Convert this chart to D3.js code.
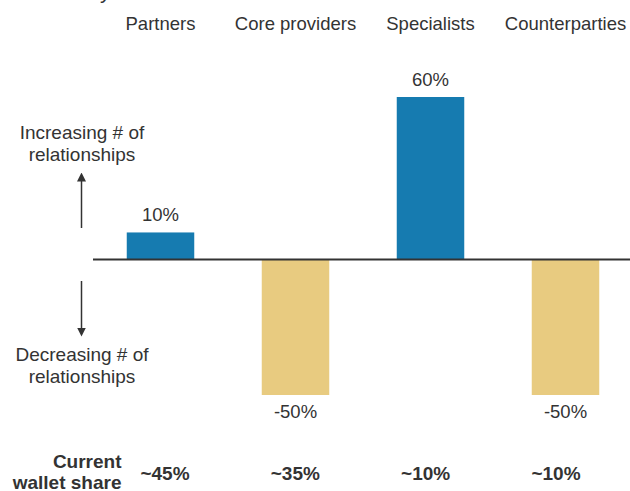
<!DOCTYPE html>
<html>
<head>
<meta charset="utf-8">
<script src="https://cdn.jsdelivr.net/npm/d3@7"></script>
<style>
  body { margin: 0; background: #fff; }
  text { font-family: Arial, "Liberation Sans", sans-serif; fill: #333; }
</style>
</head>
<body>
<div id="chart-area"></div>
<script>
const WIDTH = 630
const HEIGHT = 491

// data
const categories = ["Partners", "Core providers", "Specialists", "Counterparties"]
const changes = [10, -50, 60, -50]
const walletShare = ["~45%", "~35%", "~10%", "~10%"]

const BLUE = "#167bb0"
const GOLD = "#e8cb80"

const svg = d3.select("#chart-area").append("svg")
  .attr("width", WIDTH)
  .attr("height", HEIGHT)

// scales
const x = d3.scaleBand()
  .domain(categories)
  .range([93, 633])
  .paddingInner(0.5)
  .paddingOuter(0.25)
const y = d3.scaleLinear()
  .domain([-50, 60])
  .range([395, 97])
const shareX = d3.scalePoint()
  .domain(categories)
  .range([165, 556])

// clipped title descender at very top
svg.append("text")
  .attr("x", 100)
  .attr("y", -2)
  .attr("font-size", "22px")
  .text("y")

// column headers
svg.selectAll(".header")
  .data(categories)
  .enter().append("text")
  .attr("class", "header")
  .attr("x", d => x(d) + x.bandwidth() / 2)
  .attr("y", 29.5)
  .attr("text-anchor", "middle")
  .attr("font-size", "18.5px")
  .text(d => d)

// bars
const rows = categories.map((c, i) => ({ cat: c, v: changes[i] }))
svg.selectAll(".bar")
  .data(rows)
  .enter().append("rect")
  .attr("class", "bar")
  .attr("x", d => x(d.cat))
  .attr("width", x.bandwidth())
  .attr("y", d => y(Math.max(0, d.v)))
  .attr("height", d => Math.abs(y(d.v) - y(0)))
  .attr("fill", d => d.v >= 0 ? BLUE : GOLD)

// value labels
svg.selectAll(".val")
  .data(rows)
  .enter().append("text")
  .attr("class", "val")
  .attr("x", d => x(d.cat) + x.bandwidth() / 2)
  .attr("y", d => d.v >= 0 ? y(d.v) - 11 : y(d.v) + 23)
  .attr("text-anchor", "middle")
  .attr("font-size", "18.5px")
  .text(d => d.v + "%")

// zero line
svg.append("line")
  .attr("x1", 93)
  .attr("x2", WIDTH)
  .attr("y1", y(0))
  .attr("y2", y(0))
  .attr("stroke", "#333")
  .attr("stroke-width", 2)

// side annotations
const defs = svg.append("defs")
defs.append("marker")
  .attr("id", "arrow")
  .attr("viewBox", "0 0 10 10")
  .attr("refX", 5)
  .attr("refY", 5)
  .attr("markerWidth", 6)
  .attr("markerHeight", 6)
  .attr("orient", "auto-start-reverse")
  .append("path")
  .attr("d", "M0,0 L10,5 L0,10 z")
  .attr("fill", "#333")

svg.append("line")
  .attr("x1", 81.5).attr("x2", 81.5)
  .attr("y1", 228).attr("y2", 177)
  .attr("stroke", "#333").attr("stroke-width", 1.5)
  .attr("marker-end", "url(#arrow)")
svg.append("line")
  .attr("x1", 81.5).attr("x2", 81.5)
  .attr("y1", 281).attr("y2", 332)
  .attr("stroke", "#333").attr("stroke-width", 1.5)
  .attr("marker-end", "url(#arrow)")

const sideLabels = [
  { lines: ["Increasing # of", "relationships"], y: 139 },
  { lines: ["Decreasing # of", "relationships"], y: 361 }
]
sideLabels.forEach(s => {
  const t = svg.append("text")
    .attr("x", 82)
    .attr("y", s.y)
    .attr("text-anchor", "middle")
    .attr("font-size", "19px")
  s.lines.forEach((l, i) => {
    t.append("tspan")
      .attr("x", 82)
      .attr("dy", i === 0 ? 0 : 22)
      .text(l)
  })
})

// wallet share row
const ws = svg.append("text")
  .attr("x", 121.5)
  .attr("y", 468)
  .attr("text-anchor", "end")
  .attr("font-size", "19px")
  .attr("font-weight", "bold")
ws.append("tspan").attr("x", 121.5).text("Current")
ws.append("tspan").attr("x", 121.5).attr("dy", 21).text("wallet share")

svg.selectAll(".share")
  .data(categories)
  .enter().append("text")
  .attr("class", "share")
  .attr("x", d => shareX(d))
  .attr("y", 480)
  .attr("text-anchor", "middle")
  .attr("font-size", "19px")
  .attr("font-weight", "bold")
  .text((d, i) => walletShare[i])
</script>
</body>
</html>
